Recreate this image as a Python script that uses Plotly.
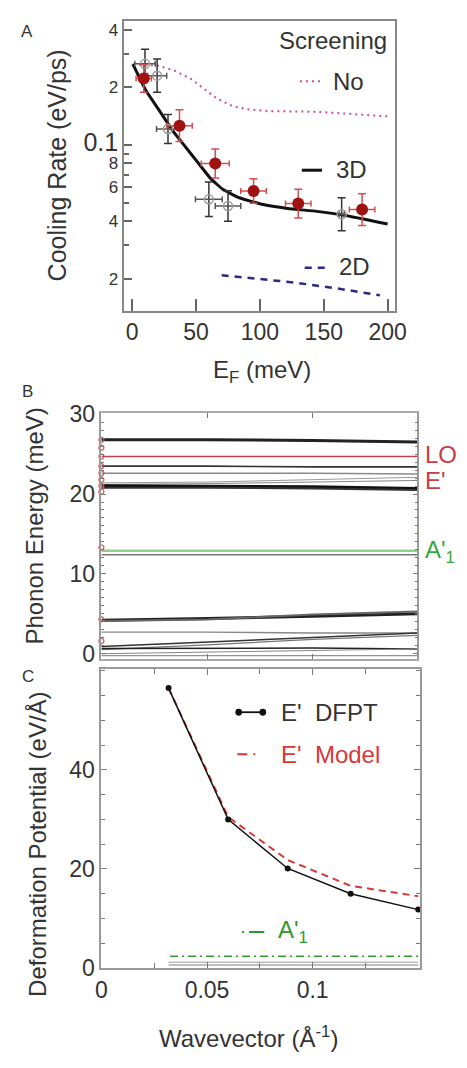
import plotly.graph_objects as go

W, H = 467, 1068
FONT = "Liberation Sans, Arial, sans-serif"
TXT = "#333333"

# ---------------- Panel A data ----------------
red_x = [9, 37, 65, 95, 130, 180]
red_y = [0.222, 0.126, 0.080, 0.0575, 0.0494, 0.046]
red_xerr = [6, 10, 11, 10, 10, 10]
red_yfac = [1.18, 1.21, 1.19, 1.16, 1.19, 1.21]

gray_x = [10, 19.5, 28, 60, 75, 164]
gray_y = [0.265, 0.23, 0.121, 0.052, 0.048, 0.0435]
gray_xerr = [8, 7.5, 9, 10.5, 10, 2]
gray_yfac = [1.19, 1.22, 1.19, 1.23, 1.2, 1.22]

line3d_x = [0.5, 10.6, 20.7, 30.8, 40.9, 51, 61.1, 71.2, 83.9, 101.5, 121.7, 144.5, 166, 200]
line3d_y = [0.264, 0.193, 0.153, 0.121, 0.0991, 0.0816, 0.0671, 0.0585, 0.053, 0.049,
            0.0466, 0.045, 0.043, 0.0387]

no_x = [0.5, 20.5, 33.3, 46, 56, 66, 78.8, 91.4, 109, 144.5, 200]
no_y = [0.264, 0.259, 0.244, 0.221, 0.197, 0.175, 0.159, 0.153, 0.150, 0.149, 0.141]

line2d_x = [70, 98, 128, 161, 194]
line2d_y = [0.0209, 0.0200, 0.0191, 0.0178, 0.0164]

a_ytickvals = [0.02, 0.04, 0.06, 0.08, 0.1, 0.2, 0.4]
a_yticktext = ["2", "4", "6", "8", '<span style="font-size:25px">0.1</span>', "2", "4"]
a_yminor = [0.03, 0.05, 0.07, 0.09, 0.3]
a_xtickvals = [0, 50, 100, 150, 200]

# ---------------- Panel B data ----------------
qb = [0, 0.05, 0.1, 0.1495]
b_modes = [
    [26.8, 26.8, 26.7, 26.5],
    [24.7, 24.7, 24.7, 24.7],
    [23.5, 23.5, 23.4, 23.4],
    [22.6, 22.6, 22.6, 22.5],
    [21.4, 21.5, 21.8, 22.1],
    [21.2, 21.3, 21.5, 21.7],
    [21.05, 21.0, 20.9, 20.7],
    [20.8, 20.8, 20.7, 20.5],
    [12.4, 12.4, 12.4, 12.4],
    [12.9, 12.9, 12.9, 12.9],
    [4.2, 4.4, 4.7, 5.0],
    [4.1, 4.3, 4.9, 5.3],
    [2.7, 2.7, 2.6, 2.6],
    [0.9, 1.5, 2.1, 2.6],
    [0.5, 1.1, 1.8, 2.3],
    [0.65, 0.65, 0.7, 0.6],
    [0.0, 0.2, 0.4, 0.6],
    [-0.25, -0.25, -0.25, -0.25],
]
b_colors = ["#222222", "#c0404a", "#333333", "#8a8a8a", "#999999", "#888888",
            "#111111", "#333333", "#777777", "#8fd08f", "#222222", "#666666",
            "#888888", "#333333", "#777777", "#222222", "#888888", "#777777"]
b_widths = [3, 1.6, 1.6, 1.4, 1, 1, 3, 2, 1.4, 2.5, 3, 2, 1.4, 1.5, 1.3, 1.5, 1, 1]
b_gamma_E = [26.8, 25.8, 24.7, 23.5, 22.6, 21.8, 21.0, 20.3, 13.3, 4.3, 1.6]
b_ytickvals = [0, 10, 20, 30]

# ---------------- Panel C data ----------------
qc = [0.0318, 0.060, 0.0882, 0.118, 0.150]
dfpt = [56.5, 30.0, 20.1, 15.0, 11.8]
model = [56.5, 30.5, 21.8, 16.6, 14.5]
a1_q = [0.0325, 0.150]
a1_val = [2.4, 2.4]
low_q = [0.0318, 0.150]
c_low1 = [1.2, 1.2]
c_low2 = [0.6, 0.6]
c_xtickvals = [0, 0.05, 0.1]
c_xticktext = ["0", "0.05", "0.1"]
c_xminor = [0.025, 0.075, 0.125]
c_ytickvals = [0, 20, 40]


def px(x):
    return x / W


def py(y):
    return 1 - y / H


fig = go.Figure()

# Panel A traces
fig.add_trace(go.Scatter(x=no_x, y=no_y, mode="lines", xaxis="x", yaxis="y",
                         line=dict(color="#c8509a", width=2, dash="2px,4px"), showlegend=False))
fig.add_trace(go.Scatter(x=line2d_x, y=line2d_y, mode="lines", xaxis="x", yaxis="y",
                         line=dict(color="#2a2a80", width=2.5, dash="7px,6px"), showlegend=False))
fig.add_trace(go.Scatter(x=line3d_x, y=line3d_y, mode="lines", xaxis="x", yaxis="y",
                         line=dict(color="#111111", width=3, shape="spline", smoothing=0.4),
                         showlegend=False))
fig.add_trace(go.Scatter(
    x=gray_x, y=gray_y, mode="markers", xaxis="x", yaxis="y", showlegend=False,
    marker=dict(symbol="circle-open", size=9, color="#9a9a9a", line=dict(width=1.5)),
    error_x=dict(type="data", array=gray_xerr, color="#555555", thickness=1.5, width=3),
    error_y=dict(type="data", array=[y * (f - 1) for y, f in zip(gray_y, gray_yfac)],
                 arrayminus=[y * (1 - 1 / f) for y, f in zip(gray_y, gray_yfac)],
                 color="#333333", thickness=1.5, width=4)))
fig.add_trace(go.Scatter(
    x=red_x, y=red_y, mode="markers", xaxis="x", yaxis="y", showlegend=False,
    marker=dict(symbol="circle", size=12, color="#a01212"),
    error_x=dict(type="data", array=red_xerr, color="#d05050", thickness=1.5, width=3),
    error_y=dict(type="data", array=[y * (f - 1) for y, f in zip(red_y, red_yfac)],
                 arrayminus=[y * (1 - 1 / f) for y, f in zip(red_y, red_yfac)],
                 color="#d05050", thickness=1.5, width=4)))

# Panel B traces
for e, c, w in zip(b_modes, b_colors, b_widths):
    fig.add_trace(go.Scatter(x=qb, y=e, mode="lines", xaxis="x2", yaxis="y2",
                             line=dict(color=c, width=w), showlegend=False))
fig.add_trace(go.Scatter(x=[0] * len(b_gamma_E), y=b_gamma_E, mode="markers",
                         xaxis="x2", yaxis="y2", cliponaxis=False, showlegend=False,
                         marker=dict(symbol="circle-open", size=5, color="#e05050",
                                     line=dict(width=1.2))))

# Panel C traces
fig.add_trace(go.Scatter(x=low_q, y=c_low1, mode="lines", xaxis="x3", yaxis="y3",
                         line=dict(color="#bbbbbb", width=1.5), showlegend=False))
fig.add_trace(go.Scatter(x=low_q, y=c_low2, mode="lines", xaxis="x3", yaxis="y3",
                         line=dict(color="#aaaaaa", width=1.5), showlegend=False))
fig.add_trace(go.Scatter(x=a1_q, y=a1_val, mode="lines", xaxis="x3", yaxis="y3",
                         line=dict(color="#2e9a2e", width=1.6, dash="8px,4px,2px,4px"),
                         showlegend=False))
fig.add_trace(go.Scatter(x=qc, y=model, mode="lines", xaxis="x3", yaxis="y3",
                         line=dict(color="#d83838", width=2, dash="7px,5px"), showlegend=False))
fig.add_trace(go.Scatter(x=qc, y=dfpt, mode="lines+markers", xaxis="x3", yaxis="y3",
                         line=dict(color="#111111", width=1.5),
                         marker=dict(size=6, color="#111111"), showlegend=False))

tickfont = dict(family=FONT, size=23, color=TXT)

layout = dict(
    width=W, height=H, margin=dict(l=0, r=0, t=0, b=0),
    paper_bgcolor="white", plot_bgcolor="white",
    font=dict(family=FONT, color=TXT),
    xaxis=dict(domain=[px(122), px(404)], anchor="y", range=[-6.8, 206],
               tickvals=a_xtickvals, ticks="inside", ticklen=12, tickwidth=1.5,
               tickcolor="#666", showline=True, linecolor="#888", linewidth=2, mirror=True,
               showgrid=False, zeroline=False, tickfont=tickfont),
    yaxis=dict(domain=[py(306), py(9)], anchor="x", type="log", range=[-1.866, -0.352],
               tickvals=a_ytickvals, ticktext=a_yticktext, ticks="inside", ticklen=8,
               tickwidth=1.5, tickcolor="#666",
               minor=dict(tickvals=a_yminor, ticks="inside", ticklen=5, tickcolor="#666"),
               showline=True, linecolor="#888", linewidth=2, mirror=True,
               showgrid=False, zeroline=False,
               tickfont=dict(family=FONT, size=17, color=TXT)),
    xaxis2=dict(domain=[px(99), px(427)], anchor="y2", range=[0, 0.1495],
                tickvals=[0.05, 0.1], ticks="inside", ticklen=5, tickcolor="#777",
                showticklabels=False, showline=True, linecolor="#aaa", linewidth=1.5,
                mirror="allticks", showgrid=False, zeroline=False),
    yaxis2=dict(domain=[py(662), py(411)], anchor="x2", range=[-0.6, 30.1],
                tickvals=b_ytickvals, ticks="inside", ticklen=5, tickcolor="#777",
                minor=dict(dtick=1, ticks="inside", ticklen=3, tickcolor="#777"),
                showline=True, linecolor="#999", linewidth=1.5, mirror="allticks",
                showgrid=False, zeroline=False, tickfont=tickfont),
    xaxis3=dict(domain=[px(99), px(430)], anchor="y3", range=[0, 0.151],
                tickvals=c_xtickvals, ticktext=c_xticktext, ticks="inside", ticklen=6,
                tickcolor="#777",
                minor=dict(tickvals=c_xminor, ticks="inside", ticklen=5, tickcolor="#777"),
                showline=True, linecolor="#999", linewidth=2, mirror="allticks",
                showgrid=False, zeroline=False, tickfont=tickfont),
    yaxis3=dict(domain=[py(979), py(673)], anchor="x3", range=[0, 60.3],
                tickvals=c_ytickvals, ticks="inside", ticklen=6, tickcolor="#777",
                minor=dict(dtick=5, ticks="inside", ticklen=4, tickcolor="#777"),
                showline=True, linecolor="#999", linewidth=2, mirror="allticks",
                showgrid=False, zeroline=False, tickfont=tickfont),
)

ann = []


def txt(x, y, s, size=24, color=TXT, xanchor="left", angle=0):
    ann.append(dict(x=px(x), y=py(y), xref="paper", yref="paper", text=s, showarrow=False,
                    xanchor=xanchor, yanchor="middle", textangle=angle,
                    font=dict(family=FONT, size=size, color=color)))


txt(22, 20, "A", 17, xanchor="center")
txt(22, 389, "B", 17, xanchor="center")
txt(23, 680, "C", 17, xanchor="center")
txt(53, 157, "Cooling Rate (eV/ps)", 25, xanchor="center", angle=-90)
txt(266, 368, "E<sub>F</sub> (meV)", 24, xanchor="center")
txt(397, 29, "Screening", 24, xanchor="right")
txt(337, 71, "No", 24)
txt(340, 161, "3D", 24)
txt(343, 261, "2D", 24)
txt(30, 526, "Phonon Energy (meV)", 24, xanchor="center", angle=-90)
txt(433, 453, "LO", 24, color="#c83c46")
txt(433, 480, "E'", 24, color="#c83c46")
txt(433, 552, "A'<sub>1</sub>", 24, color="#3aa83a")
txt(32, 852, "Deformation Potential (eV/Å)", 24, xanchor="center", angle=-90)
txt(252, 1050, "Wavevector (Å<sup>-1</sup>)", 24, xanchor="center")
txt(283, 717, "E'  DFPT", 24)
txt(283, 760, "E'  Model", 24, color="#d83838")
txt(280, 942, "A'<sub>1</sub>", 24, color="#2e9a2e")

shapes = [
    dict(type="line", xref="paper", yref="paper", x0=px(305), x1=px(327), y0=py(71), y1=py(71),
         line=dict(color="#c8509a", width=2, dash="2px,4px")),
    dict(type="line", xref="paper", yref="paper", x0=px(307), x1=px(328), y0=py(162), y1=py(162),
         line=dict(color="#111", width=3)),
    dict(type="line", xref="paper", yref="paper", x0=px(310), x1=px(333), y0=py(262), y1=py(262),
         line=dict(color="#2a2a80", width=2.5, dash="7px,6px")),
    dict(type="line", xref="paper", yref="paper", x0=px(241), x1=px(267), y0=py(717), y1=py(717),
         line=dict(color="#111", width=1.8)),
    dict(type="circle", xref="paper", yref="paper", x0=px(238), x1=px(245), y0=py(713.5), y1=py(720.5),
         fillcolor="#111", line=dict(width=0)),
    dict(type="circle", xref="paper", yref="paper", x0=px(263), x1=px(270), y0=py(713.5), y1=py(720.5),
         fillcolor="#111", line=dict(width=0)),
    dict(type="line", xref="paper", yref="paper", x0=px(240), x1=px(266), y0=py(760), y1=py(760),
         line=dict(color="#d83838", width=2, dash="10px,6px,2px,8px")),
    dict(type="line", xref="paper", yref="paper", x0=px(245), x1=px(268), y0=py(942), y1=py(942),
         line=dict(color="#2e9a2e", width=2, dash="2px,5px,16px,4px")),
]

layout["annotations"] = ann
layout["shapes"] = shapes
fig.update_layout(**layout)
fig.write_html("out.html")
